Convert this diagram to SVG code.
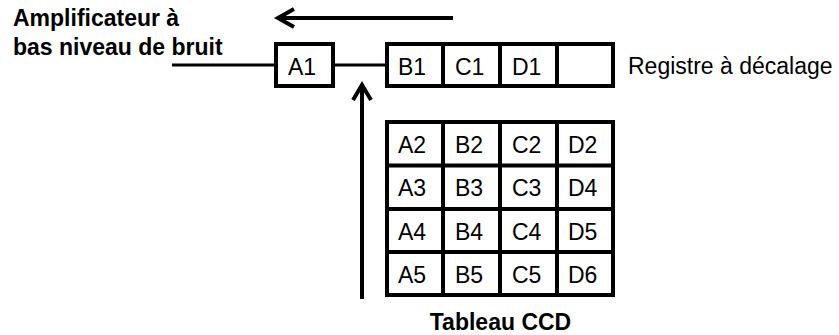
<svg xmlns="http://www.w3.org/2000/svg" width="839" height="335" viewBox="0 0 839 335">
<style>
  .box { fill: #ffffff; stroke: #000000; stroke-width: 4; }
  .ln { fill: none; stroke: #000000; stroke-width: 4; }
  .thin { fill: none; stroke: #000000; stroke-width: 3; }
  .head { fill: none; stroke: #000000; stroke-width: 4; stroke-linejoin: miter; stroke-linecap: butt; }
  .cell { font-family: "Liberation Sans", Arial, sans-serif; font-size: 23px; fill: #000000; }
  .lbl { font-family: "Liberation Sans", Arial, sans-serif; font-size: 23px; fill: #000000; }
  .bold { font-family: "Liberation Sans", Arial, sans-serif; font-size: 23px; font-weight: bold; fill: #000000; }
</style>
<rect width="839" height="335" fill="#ffffff"/>
<g id="connectors">
  <line class="thin" x1="172" y1="65" x2="276" y2="65"/>
  <line class="thin" x1="333" y1="65" x2="387" y2="65"/>
  <line class="ln" x1="279" y1="18" x2="453" y2="18"/>
  <path class="head" d="M294,9 L278,18 L294,27"/>
  <line class="ln" x1="362" y1="86" x2="362" y2="299"/>
  <path class="head" d="M353,100 L362,85 L371,100"/>
</g>
<g id="amplifier-label">
  <text class="bold" x="13" y="26">Amplificateur à</text>
  <text class="bold" x="13" y="55">bas niveau de bruit</text>
</g>
<g id="A1">
  <rect class="box" x="276" y="44" width="57" height="42"/>
  <text class="cell" x="288" y="75">A1</text>
</g>
<g id="shift-register">
  <rect class="box" x="387" y="44" width="226" height="42"/>
  <line class="ln" x1="443" y1="44" x2="443" y2="86"/>
  <line class="ln" x1="500" y1="44" x2="500" y2="86"/>
  <line class="ln" x1="557" y1="44" x2="557" y2="86"/>
  <text class="cell" x="398" y="75">B1</text>
  <text class="cell" x="455" y="75">C1</text>
  <text class="cell" x="512" y="75">D1</text>
</g>
<g id="register-label">
  <text class="lbl" x="628" y="74">Registre à décalage</text>
</g>
<g id="ccd-array">
  <rect class="box" x="387" y="122" width="226" height="173"/>
  <line class="ln" x1="443" y1="122" x2="443" y2="295"/>
  <line class="ln" x1="500" y1="122" x2="500" y2="295"/>
  <line class="ln" x1="557" y1="122" x2="557" y2="295"/>
  <line class="ln" x1="387" y1="165.5" x2="613" y2="165.5"/>
  <line class="ln" x1="387" y1="209" x2="613" y2="209"/>
  <line class="ln" x1="387" y1="252" x2="613" y2="252"/>
  <text class="cell" x="398" y="153">A2</text>
  <text class="cell" x="455" y="153">B2</text>
  <text class="cell" x="512" y="153">C2</text>
  <text class="cell" x="568" y="153">D2</text>
  <text class="cell" x="398" y="196">A3</text>
  <text class="cell" x="455" y="196">B3</text>
  <text class="cell" x="512" y="196">C3</text>
  <text class="cell" x="568" y="196">D4</text>
  <text class="cell" x="398" y="240">A4</text>
  <text class="cell" x="455" y="240">B4</text>
  <text class="cell" x="512" y="240">C4</text>
  <text class="cell" x="568" y="240">D5</text>
  <text class="cell" x="398" y="283">A5</text>
  <text class="cell" x="455" y="283">B5</text>
  <text class="cell" x="512" y="283">C5</text>
  <text class="cell" x="568" y="283">D6</text>
</g>
<g id="ccd-label">
  <text class="bold" x="500.5" y="330" text-anchor="middle" font-size="22">Tableau CCD</text>
</g>
</svg>
